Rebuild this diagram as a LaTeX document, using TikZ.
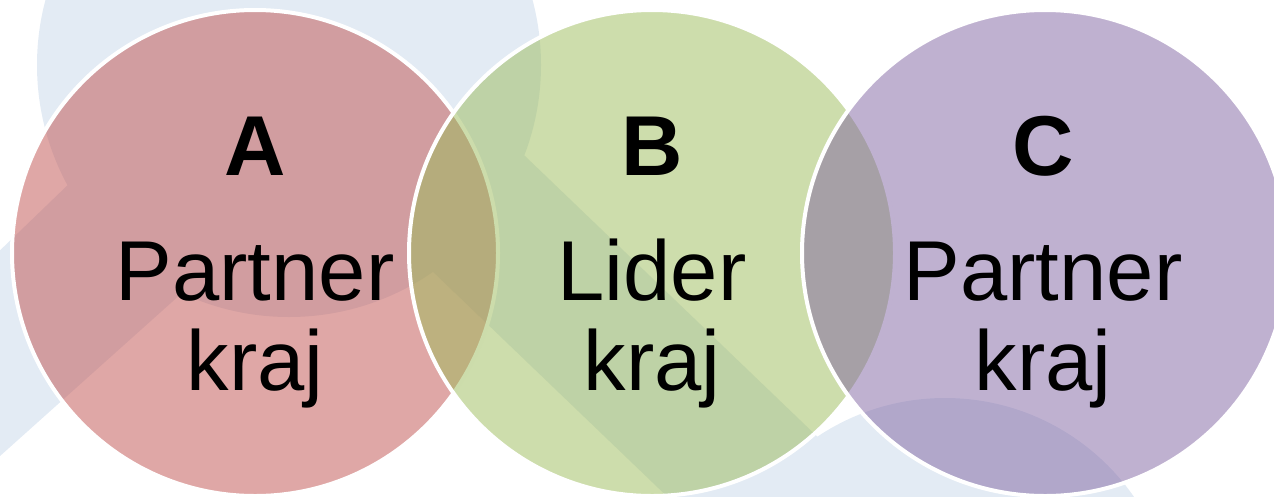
\documentclass[tikz,border=0pt]{standalone}
\usepackage{fontspec}
\setmainfont{Liberation Sans}
\definecolor{bgblue}{HTML}{E3EBF4}
\definecolor{redA}{HTML}{C0504D}
\definecolor{greenB}{HTML}{9BBB59}
\definecolor{purpleC}{HTML}{8064A2}
\begin{document}
\begin{tikzpicture}[x=1pt,y=-1pt,
  venn/.style={circle, minimum size=486pt, inner sep=0pt, draw=white, line width=4pt, fill opacity=0.5, draw opacity=1},
  bigtext/.style={font=\fontsize{85}{90}\selectfont, inner sep=0pt, anchor=base, text=black},
  bigletter/.style={bigtext, font=\fontsize{85}{90}\selectfont\bfseries},
  wmark/.style={fill=bgblue}]
\useasboundingbox (0,0) rectangle (1274,496);
\clip (0,0) rectangle (1274,496);
% background watermark
\fill[wmark] (289,65) circle[radius=252];
\fill[wmark] (-10,260) -- (130,125) -- (220,259) -- (-10,465) -- cycle;
\fill[wmark] (400,36) -- (1000,612) -- (900,720) -- (380,221) -- cycle;
\fill[wmark] (945,628) circle[radius=230];
% circles
\node[venn, fill=redA] (A) at (255,253) {};
\node[venn, fill=greenB] (B) at (652,253) {};
\node[venn, fill=purpleC] (C) at (1045,253) {};
% texts
\node[bigletter] (la) at (255,175) {A};
\node[bigtext] (pa) at (255,300) {Partner};
\node[bigtext] (ka) at (255,390) {kraj};
\node[bigletter] (lb) at (652,175) {B};
\node[bigtext] (pb) at (652,300) {Lider};
\node[bigtext] (kb) at (652,390) {kraj};
\node[bigletter] (lc) at (1043,175) {C};
\node[bigtext] (pc) at (1043,300) {Partner};
\node[bigtext] (kc) at (1043,390) {kraj};
\end{tikzpicture}
\end{document}
